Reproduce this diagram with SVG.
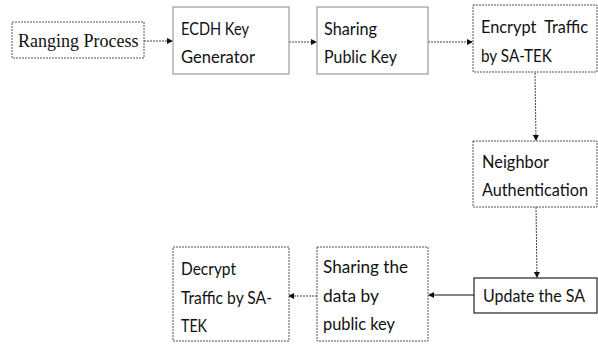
<svg xmlns="http://www.w3.org/2000/svg" width="598" height="344" viewBox="0 0 598 344">
<defs>
<marker id="ah" markerWidth="6" markerHeight="6" refX="5" refY="3" orient="auto" markerUnits="userSpaceOnUse">
<path d="M0,0 L6,3 L0,6 Z" fill="#111"/>
</marker>
</defs>
<style>
.box{fill:#fff;stroke:#666;stroke-width:1}
.dash{stroke:#555;stroke-dasharray:2 1}
.solid{stroke:#888}
.dark{stroke:#222;stroke-width:1.2}
.t{font-family:Lato,"Open Sans",sans-serif;font-size:17px;fill:#111}
.s{font-family:"Liberation Serif","Times New Roman",serif;font-size:18px;fill:#111}
.c{fill:none;stroke:#444;stroke-width:1;stroke-dasharray:2 1;marker-end:url(#ah)}
.cs{fill:none;stroke:#111;stroke-width:1.2;marker-end:url(#ah)}
</style>
<rect width="598" height="344" fill="#fff"/>
<g id="connectors">
<line class="c" x1="144" y1="41" x2="172" y2="41"/>
<line class="c" x1="289" y1="42" x2="316" y2="42"/>
<line class="c" x1="428" y1="42" x2="472" y2="42"/>
<line class="c" x1="535" y1="73" x2="536" y2="140"/>
<line class="c" x1="536" y1="207" x2="537" y2="277"/>
<line class="cs" x1="474" y1="295" x2="429" y2="295"/>
<line class="c" x1="317" y1="296" x2="289" y2="296"/>
</g>
<g id="ranging">
<rect class="box dash" x="12" y="22" width="132" height="36"/>
<text class="s" x="18" y="47">Ranging Process</text>
</g>
<g id="ecdh">
<rect class="box solid" x="173" y="7" width="116" height="67"/>
<text class="t" x="181" y="35" textLength="68" lengthAdjust="spacingAndGlyphs">ECDH Key</text>
<text class="t" x="181" y="63" textLength="74" lengthAdjust="spacingAndGlyphs">Generator</text>
</g>
<g id="sharing-public">
<rect class="box solid" x="317" y="7" width="111" height="67"/>
<text class="t" x="324" y="35" textLength="53" lengthAdjust="spacingAndGlyphs">Sharing</text>
<text class="t" x="324" y="63" textLength="73" lengthAdjust="spacingAndGlyphs">Public Key</text>
</g>
<g id="encrypt">
<rect class="box dash" x="473" y="5" width="124" height="67"/>
<text class="t" x="481" y="33" xml:space="preserve" textLength="107" lengthAdjust="spacingAndGlyphs">Encrypt  Traffic</text>
<text class="t" x="481" y="62" textLength="71" lengthAdjust="spacingAndGlyphs">by SA-TEK</text>
</g>
<g id="neighbor">
<rect class="box dash" x="473" y="141" width="124" height="66"/>
<text class="t" x="482" y="168" textLength="67" lengthAdjust="spacingAndGlyphs">Neighbor</text>
<text class="t" x="482" y="196" textLength="106" lengthAdjust="spacingAndGlyphs">Authentication</text>
</g>
<g id="update">
<rect class="box dark" x="474" y="278" width="123" height="35"/>
<text class="t" x="483" y="302" textLength="102" lengthAdjust="spacingAndGlyphs">Update the SA</text>
</g>
<g id="sharing-data">
<rect class="box dash" x="317" y="247" width="111" height="94"/>
<text class="t" x="323" y="273" textLength="85" lengthAdjust="spacingAndGlyphs">Sharing the</text>
<text class="t" x="323" y="302" textLength="56" lengthAdjust="spacingAndGlyphs">data by</text>
<text class="t" x="323" y="330" textLength="72" lengthAdjust="spacingAndGlyphs">public key</text>
</g>
<g id="decrypt">
<rect class="box dash" x="173" y="247" width="116" height="94"/>
<text class="t" x="181" y="275" textLength="55" lengthAdjust="spacingAndGlyphs">Decrypt</text>
<text class="t" x="181" y="304" textLength="91" lengthAdjust="spacingAndGlyphs">Traffic by SA-</text>
<text class="t" x="181" y="332" textLength="26" lengthAdjust="spacingAndGlyphs">TEK</text>
</g>
</svg>
